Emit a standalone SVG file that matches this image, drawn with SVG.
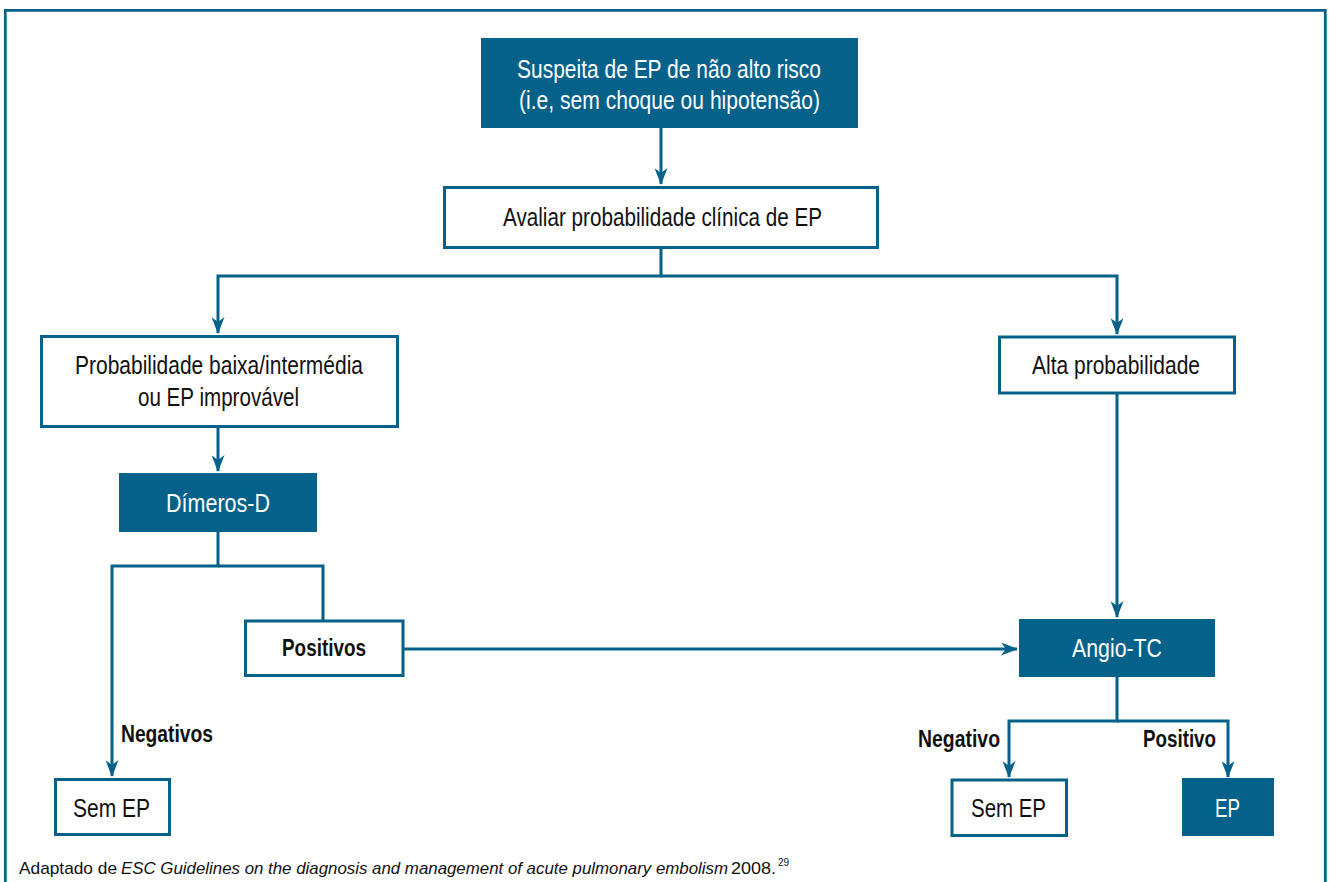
<svg xmlns="http://www.w3.org/2000/svg" width="1331" height="882" viewBox="0 0 1331 882">
<defs>
<style>
.fill{fill:#03618a;stroke:none}
.box{fill:#fff;stroke:#03618a;stroke-width:3}
.ln{fill:none;stroke:#03618a;stroke-width:3}
.t{font-family:"Liberation Sans",Arial,sans-serif;font-size:25.5px;fill:#111}
.w{fill:#fff}
.b{font-weight:bold;font-size:23px}
.f{font-family:"Liberation Sans",Arial,sans-serif;font-size:17px;fill:#111}
</style>
<marker id="ah" viewBox="0 0 17 13" refX="16" refY="6.5" markerWidth="17" markerHeight="13" markerUnits="userSpaceOnUse" orient="auto">
<path d="M0,0 L17,6.5 L0,13 L5,6.5 z" fill="#03618a"/>
</marker>
</defs>
<rect width="1331" height="882" fill="#fff"/>
<path id="frame" d="M5.3,882 V10.3 H1325.3 V882" fill="none" stroke="#03618a" stroke-width="2.7"/>

<g id="connectors">
<path class="ln" d="M661,128 V184" marker-end="url(#ah)"/>
<path class="ln" d="M661,247 V276 H218 V333" marker-end="url(#ah)"/>
<path class="ln" d="M661,276 H1117 V334" marker-end="url(#ah)"/>
<path class="ln" d="M218,428 V471" marker-end="url(#ah)"/>
<path class="ln" d="M218,532 V566 H112 V776" marker-end="url(#ah)"/>
<path class="ln" d="M218,566 H323 V621"/>
<path class="ln" d="M404,649 H1017" marker-end="url(#ah)"/>
<path class="ln" d="M1117,393 V617" marker-end="url(#ah)"/>
<path class="ln" d="M1117,677 V721 H1009 V777" marker-end="url(#ah)"/>
<path class="ln" d="M1117,721 H1228 V777" marker-end="url(#ah)"/>
</g>

<g id="n_suspeita">
<rect class="fill" x="481" y="38" width="377" height="90"/>
<text class="t w" x="517" y="78" textLength="304" lengthAdjust="spacingAndGlyphs">Suspeita de EP de não alto risco</text>
<text class="t w" x="519" y="109" textLength="301" lengthAdjust="spacingAndGlyphs">(i.e, sem choque ou hipotensão)</text>
</g>

<g id="n_avaliar">
<rect class="box" x="444.5" y="187.5" width="433" height="60"/>
<text class="t" x="503" y="226" textLength="319" lengthAdjust="spacingAndGlyphs">Avaliar probabilidade clínica de EP</text>
</g>

<g id="n_baixa">
<rect class="box" x="41.5" y="336.5" width="356" height="90"/>
<text class="t" x="75" y="374" textLength="288" lengthAdjust="spacingAndGlyphs">Probabilidade baixa/intermédia</text>
<text class="t" x="138" y="406" textLength="161" lengthAdjust="spacingAndGlyphs">ou EP improvável</text>
</g>

<g id="n_alta">
<rect class="box" x="999.5" y="337" width="235" height="56"/>
<text class="t" x="1032" y="374" textLength="168" lengthAdjust="spacingAndGlyphs">Alta probabilidade</text>
</g>

<g id="n_dimeros">
<rect class="fill" x="119" y="473" width="198" height="59"/>
<text class="t w" x="166" y="512" textLength="104" lengthAdjust="spacingAndGlyphs">Dímeros-D</text>
</g>

<g id="n_positivos">
<rect class="box" x="245.5" y="621" width="157.5" height="54.5"/>
<text class="t b" x="282" y="656" textLength="84" lengthAdjust="spacingAndGlyphs">Positivos</text>
</g>

<g id="l_negativos">
<text class="t b" x="121" y="742" textLength="92" lengthAdjust="spacingAndGlyphs">Negativos</text>
</g>

<g id="n_semep1">
<rect class="box" x="55.5" y="779.5" width="114" height="55"/>
<text class="t" x="73" y="817" textLength="77" lengthAdjust="spacingAndGlyphs">Sem EP</text>
</g>

<g id="n_angio">
<rect class="fill" x="1019" y="619" width="196" height="58"/>
<text class="t w" x="1072" y="657" textLength="90" lengthAdjust="spacingAndGlyphs">Angio-TC</text>
</g>

<g id="l_negpos">
<text class="t b" x="918" y="747" textLength="82" lengthAdjust="spacingAndGlyphs">Negativo</text>
<text class="t b" x="1143" y="747" textLength="73" lengthAdjust="spacingAndGlyphs">Positivo</text>
</g>

<g id="n_semep2">
<rect class="box" x="952" y="780" width="114.5" height="55.5"/>
<text class="t" x="971" y="817" textLength="75" lengthAdjust="spacingAndGlyphs">Sem EP</text>
</g>

<g id="n_ep">
<rect class="fill" x="1182" y="778" width="92" height="58"/>
<text class="t w" x="1215" y="817" textLength="25" lengthAdjust="spacingAndGlyphs">EP</text>
</g>

<g id="footer">
<text class="f" x="19" y="874" textLength="98" lengthAdjust="spacingAndGlyphs">Adaptado de</text>
<text class="f" x="121" y="874" font-style="italic" textLength="607" lengthAdjust="spacingAndGlyphs">ESC Guidelines on the diagnosis and management of acute pulmonary embolism</text>
<text class="f" x="731" y="874" textLength="45" lengthAdjust="spacingAndGlyphs">2008.</text>
<text class="f" x="778" y="866" style="font-size:10px">29</text>
</g>
</svg>
